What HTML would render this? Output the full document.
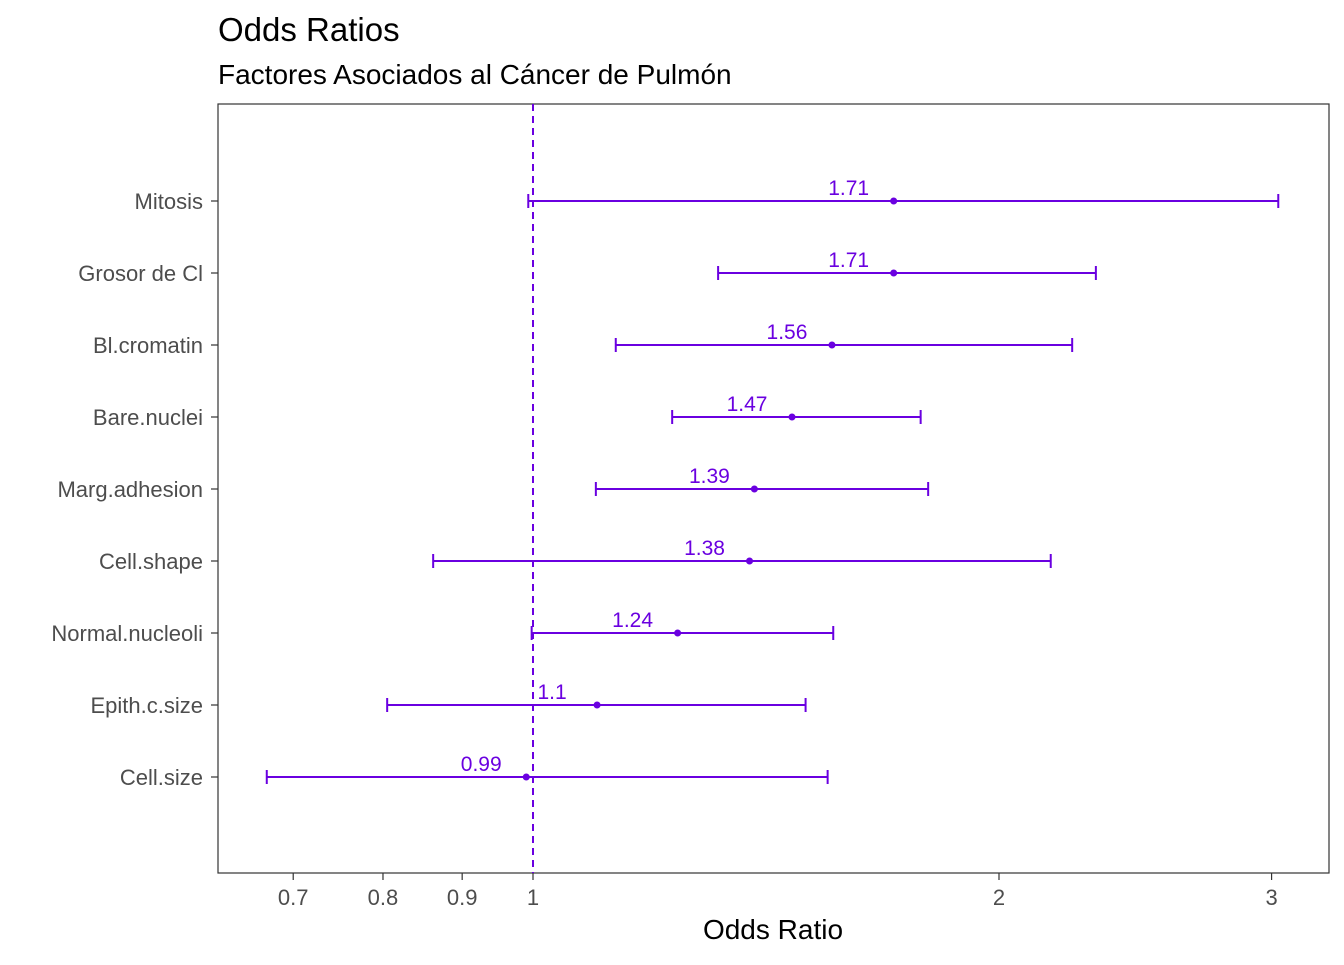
<!DOCTYPE html>
<html><head><meta charset="utf-8"><style>
body{margin:0;background:#fff;font-family:"Liberation Sans",Arial,sans-serif;}
</style></head><body>
<svg width="1344" height="960" xmlns="http://www.w3.org/2000/svg" font-family="Liberation Sans, Arial, sans-serif">
<text x="218" y="41" font-size="33" fill="#000">Odds Ratios</text>
<text x="218" y="84" font-size="28" fill="#000">Factores Asociados al Cáncer de Pulmón</text>
<rect x="218" y="104" width="1111" height="769" fill="none" stroke="#333" stroke-width="1.2"/>
<g id="g"></g>
<text x="773" y="939" font-size="28" text-anchor="middle" fill="#000">Odds Ratio</text>
</svg>
<script>
const labels=["Mitosis","Grosor de Cl","Bl.cromatin","Bare.nuclei","Marg.adhesion","Cell.shape","Normal.nucleoli","Epith.c.size","Cell.size"];
const ors=[1.71,1.71,1.56,1.47,1.39,1.38,1.24,1.1,0.99];
const lows=[0.993,1.317,1.131,1.23,1.098,0.862,0.998,0.805,0.673];
const highs=[3.03,2.31,2.23,1.78,1.80,2.16,1.563,1.50,1.55];
const ticks=[0.7,0.8,0.9,1,2,3];
const tickLabels=["0.7","0.8","0.9","1","2","3"];
const C="#6a00e0",NS="http://www.w3.org/2000/svg",g=document.getElementById('g');
const X=v=>533+1548*Math.log10(v);
const Y=i=>201+72*i;
function mk(t,a,p){const e=document.createElementNS(NS,t);for(const k in a)e.setAttribute(k,a[k]);(p||g).appendChild(e);return e;}
let rl=mk('line',{x1:X(1),x2:X(1),y1:104,y2:873,stroke:C,'stroke-width':2,'stroke-dasharray':'7,5'});


ticks.forEach((t,i)=>{
 let l=mk('line',{x1:X(t),x2:X(t),y1:873,y2:880,stroke:'#333','stroke-width':1.2});
 
 
 let tx=mk('text',{x:X(t),y:905,'font-size':22,'text-anchor':'middle',fill:'#4d4d4d'});
 tx.textContent=tickLabels[i];
 
 
});
labels.forEach((lab,i)=>{
 const y=Y(i);
 let l=mk('line',{x1:211,x2:218,y1:y,y2:y,stroke:'#333','stroke-width':1.2});
 
 
 let t=mk('text',{x:203,y:y+8,'font-size':22,'text-anchor':'end',fill:'#4d4d4d'});
 t.textContent=lab;
 
 
 const gg=mk('g',{});
 
 
 mk('line',{x1:X(lows[i]),x2:X(highs[i]),y1:y,y2:y,stroke:C,'stroke-width':2},gg);
 mk('line',{x1:X(lows[i]),x2:X(lows[i]),y1:y-7,y2:y+7,stroke:C,'stroke-width':2},gg);
 mk('line',{x1:X(highs[i]),x2:X(highs[i]),y1:y-7,y2:y+7,stroke:C,'stroke-width':2},gg);
 let p=mk('circle',{cx:X(ors[i]),cy:y,r:3.5,fill:C});
 
 
 let v=mk('text',{x:X(ors[i])-45,y:y-6,'font-size':21,'text-anchor':'middle',fill:C});
 v.textContent=String(ors[i]);
 
 
});
</script>
</body></html>
